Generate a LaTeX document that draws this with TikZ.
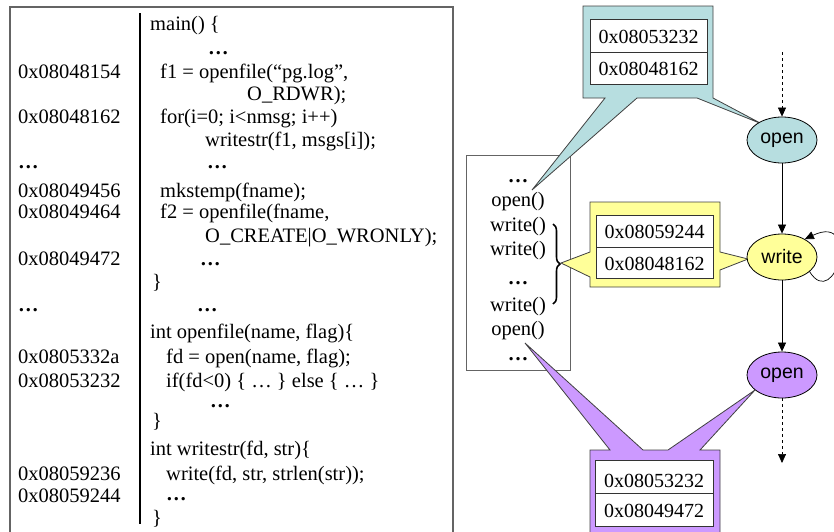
\documentclass[tikz,border=0pt]{standalone}
\usepackage{fontspec}
\setmainfont{Liberation Serif}
\newfontfamily\arialf{Liberation Sans}
\usetikzlibrary{shapes.geometric,arrows.meta,decorations.pathreplacing}
\definecolor{cblue}{RGB}{183,222,224}
\definecolor{cyel}{RGB}{255,255,153}
\definecolor{cpur}{RGB}{204,153,255}
\definecolor{frame}{RGB}{100,100,100}
\newcommand\codeline[4]{\node[code] (#1) at (#2,#3) {#4};}
\newcommand\stackline[3]{\node[stk] (#1) at (518,#2) {#3};}
\begin{document}
\begin{tikzpicture}[x=1pt,y=-1pt,
  code/.style={anchor=base west,inner sep=0pt,font=\fontsize{20.5}{24}\selectfont},
  stk/.style={anchor=base,inner sep=0pt,font=\fontsize{20.5}{24}\selectfont},
  addr/.style={anchor=base,inner sep=0pt,font=\fontsize{20}{24}\selectfont},
  state/.style={ellipse,draw=black,line width=0.8pt,minimum width=70pt,minimum height=46pt,inner sep=0pt,font=\arialf\fontsize{19.5}{22}\selectfont},
  callout/.style={draw=black!75,line width=0.8pt,line join=miter},
  tbl/.style={draw=black!80,fill=white,line width=0.8pt},
  arr/.style={-{Triangle[length=9pt,width=8pt]},line width=0.7pt}
]
\useasboundingbox (0,0) rectangle (834,531);
\clip (0,0) rectangle (834,531);

% code frame
\draw[frame,line width=1.3pt] (10,545) -- (10,7) -- (453,7) -- (453,545);
\draw[black,line width=2.2pt] (140,13) -- (140,524);

% addresses
\codeline{a1}{18}{78}{0x08048154}
\codeline{a2}{18}{123}{0x08048162}
\codeline{a3}{18}{168}{\textbf{…}}
\codeline{a4}{18}{197}{0x08049456}
\codeline{a5}{18}{218}{0x08049464}
\codeline{a6}{18}{265}{0x08049472}
\codeline{a7}{18}{311}{\textbf{…}}
\codeline{a8}{18}{363}{0x0805332a}
\codeline{a9}{18}{387}{0x08053232}
\codeline{a10}{18}{480}{0x08059236}
\codeline{a11}{18}{502}{0x08059244}

% code
\codeline{k1}{150}{30}{main() \{}
\codeline{k2}{208}{54}{\textbf{…}}
\codeline{k3}{160}{78}{f1 = openfile(“pg.log”,}
\codeline{k4}{247}{100}{O\_RDWR);}
\codeline{k5}{160}{123}{for(i=0; i<nmsg; i++)}
\codeline{k6}{205}{146}{writestr(f1, msgs[i]);}
\codeline{k7}{207}{168}{\textbf{…}}
\codeline{k8}{160}{197}{mkstemp(fname);}
\codeline{k9}{160}{218}{f2 = openfile(fname,}
\codeline{k10}{205}{242}{O\_CREATE\textbar O\_WRONLY);}
\codeline{k11}{200}{265}{\textbf{…}}
\codeline{k12}{152}{288}{\}}
\codeline{k13}{197}{311}{\textbf{…}}
\codeline{k14}{150}{338}{int openfile(name, flag)\{}
\codeline{k15}{166}{363}{fd = open(name, flag);}
\codeline{k16}{166}{387}{if(fd<0) \{ … \} else \{ … \}}
\codeline{k17}{210}{407}{\textbf{…}}
\codeline{k18}{152}{427}{\}}
\codeline{k19}{150}{455}{int writestr(fd, str)\{}
\codeline{k20}{166}{480}{write(fd, str, strlen(str));}
\codeline{k21}{166}{500}{\textbf{…}}
\codeline{k22}{152}{524}{\}}

% call stack box
\draw[frame,line width=0.9pt] (466,155) rectangle (570,370);
\stackline{s1}{182}{\textbf{…}}
\stackline{s2}{206}{open()}
\stackline{s3}{231}{write()}
\stackline{s4}{255}{write()}
\stackline{s5}{284}{\textbf{…}}
\stackline{s6}{311}{write()}
\stackline{s7}{335}{open()}
\stackline{s8}{360}{\textbf{…}}
\draw[decorate,decoration={brace,amplitude=7pt},line width=1.6pt] (553,224) -- (553,304);

% blue callout
\path[callout,fill=cblue] (583,6) -- (713,6) -- (713,98) -- (762,124) -- (697,98) -- (637,98)
  -- (532,190) -- (605,98) -- (583,98) -- cycle;
\draw[tbl] (590,19) rectangle (707,84);
\draw[black!80,line width=0.8pt] (590,52) -- (707,52);
\node[addr] (b1) at (648.5,43) {0x08053232};
\node[addr] (b2) at (648.5,75) {0x08048162};

% yellow callout
\path[callout,fill=cyel] (590,202) -- (720,202) -- (720,252) -- (748,259) -- (720,270) -- (720,287)
  -- (590,287) -- (590,277) -- (561,263) -- (590,252) -- cycle;
\draw[tbl] (596,215) rectangle (713,278);
\draw[black!80,line width=0.8pt] (596,247) -- (713,247);
\node[addr] (y1) at (654.5,238) {0x08059244};
\node[addr] (y2) at (654.5,270) {0x08048162};

% purple callout
\path[callout,fill=cpur] (590,450) -- (610,450) -- (525,343) -- (643,450) -- (668,450) -- (755,390)
  -- (700,450) -- (720,450) -- (720,545) -- (590,545) -- cycle;
\draw[tbl] (595,460) rectangle (713,526);
\draw[black!80,line width=0.8pt] (595,493) -- (713,493);
\node[addr] (p1) at (654,487) {0x08053232};
\node[addr] (p2) at (654,517) {0x08049472};

% state machine
\node[state,fill=cblue] (open1) at (782,140) {open};
\node[state,fill=cyel] (write) at (782,257) {write};
\node[state,fill=cpur] (open2) at (782,375) {open};
\coordinate (start) at (782,52);
\coordinate (end) at (782,463);
\draw[arr,dashed] (start) -- (open1);
\draw[arr] (open1) -- (write);
\draw[arr] (write) -- (open2);
\draw[arr,dashed] (open2) -- (end);
\draw[arr] (write.-28) .. controls (835,312) and (862,212) .. (write.38);
\end{tikzpicture}
\end{document}
